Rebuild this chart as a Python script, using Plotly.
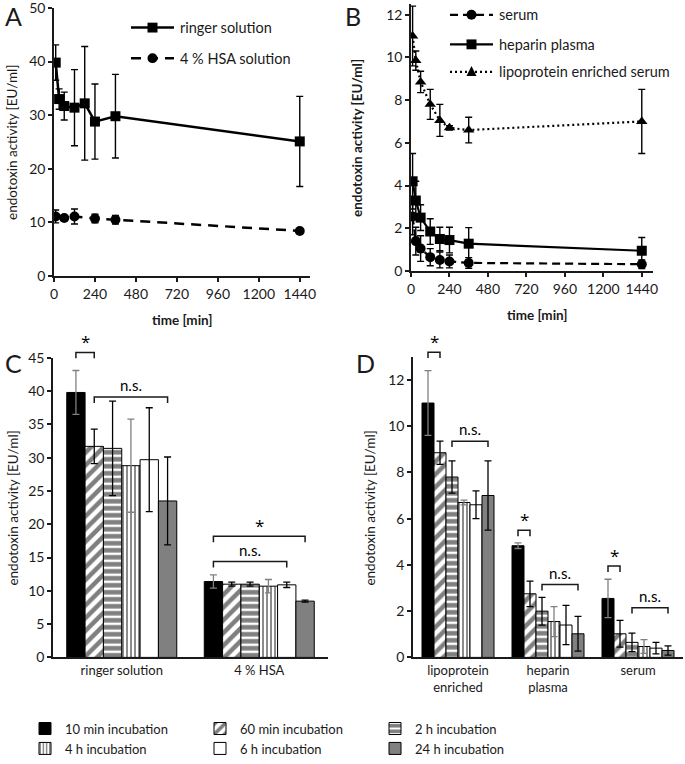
import plotly.graph_objects as go

W, H = 685, 764
FONT = "Lato, Carlito, sans-serif"
INK = "#1a1a1a"

# ---- panel A: time course in ringer / HSA
T_RINGER = [10, 30, 60, 120, 180, 240, 360, 1440]
RINGER = [39.8, 33.0, 31.7, 31.4, 32.2, 28.8, 29.8, 25.1]
RINGER_SD = [3.3, 1.9, 2.6, 7.1, 10.6, 7.0, 7.8, 8.4]
T_HSA = [10, 60, 120, 240, 360, 1440]
HSA = [11.1, 10.8, 11.1, 10.7, 10.5, 8.4]
HSA_SD = [1.2, 0.4, 1.4, 0.8, 0.8, 0.1]

# ---- panel B: time course in blood matrices
T_B = [10, 30, 60, 120, 180, 240, 360, 1440]
SERUM = [2.55, 1.4, 1.05, 0.65, 0.52, 0.45, 0.38, 0.32]
SERUM_SD = [0.85, 0.65, 0.6, 0.4, 0.37, 0.3, 0.25, 0.2]
HEPARIN = [4.2, 3.3, 2.5, 1.85, 1.5, 1.45, 1.28, 0.95]
HEPARIN_SD = [1.3, 0.9, 0.6, 0.6, 0.55, 0.6, 0.75, 0.62]
LIPO = [11.0, 9.85, 8.85, 7.8, 7.05, 6.7, 6.6, 7.0]
LIPO_SD = [1.4, 0.45, 0.5, 0.7, 0.75, 0.1, 0.6, 1.5]

# ---- panels C / D: bars per incubation time
INCUBATION = ["10 min incubation", "60 min incubation", "2 h incubation",
              "4 h incubation", "6 h incubation", "24 h incubation"]
CAT_C = ["ringer solution", "4 % HSA"]
C_RINGER = [39.8, 31.7, 31.4, 28.8, 29.7, 23.5]
C_RINGER_SD = [3.3, 2.6, 7.1, 7.0, 7.8, 6.6]
C_HSA = [11.4, 11.0, 11.0, 10.7, 10.9, 8.45]
C_HSA_SD = [1.0, 0.3, 0.3, 1.0, 0.4, 0.15]

CAT_D = ["lipoprotein<br>enriched", "heparin<br>plasma", "serum"]
D_LIPO = [11.0, 8.85, 7.8, 6.7, 6.6, 7.0]
D_LIPO_SD = [1.4, 0.5, 0.7, 0.1, 0.6, 1.5]
D_HEPARIN = [4.83, 2.75, 2.0, 1.55, 1.4, 1.02]
D_HEPARIN_SD = [0.12, 0.55, 0.6, 0.65, 0.85, 0.75]
D_SERUM = [2.55, 1.02, 0.65, 0.47, 0.4, 0.3]
D_SERUM_SD = [0.83, 0.58, 0.4, 0.3, 0.25, 0.2]

# (group, first bar, last bar, bracket top, label)
BRACKETS_C = [(0, 0, 1, 45.8, "*"), (0, 1, 5, 39.1, "n.s."),
              (1, 0, 5, 18.2, "*"), (1, 0, 4, 14.4, "n.s.")]
BRACKETS_D = [(0, 0, 1, 13.2, "*"), (0, 2, 5, 9.35, "n.s."),
              (1, 0, 1, 5.5, "*"), (1, 2, 5, 3.15, "n.s."),
              (2, 0, 1, 3.95, "*"), (2, 2, 5, 2.15, "n.s.")]

# pixel boxes of the four plot areas: (left, right, bottom, top)
BOX_A = (54, 310, 280, 8)
BOX_B = (411, 653, 275, 4)
BOX_C = (53, 328, 667, 363)
BOX_D = (413, 683, 667, 362)
YMAX = {"C": 45, "D": 13}
BARGAP = 0.2


def fx(px):
    return px / W


def fy(py):
    return 1 - py / H


def dom_x(box):
    return [fx(box[0]), fx(box[1])]


def dom_y(box):
    return [fy(box[2]), fy(box[3])]


def bar_x_paper(box, ncat, cat, i):
    pos = cat - (1 - BARGAP) / 2 + (i + 0.5) * (1 - BARGAP) / 6
    return fx(box[0] + (pos + 0.5) / ncat * (box[1] - box[0]))


def val_y_paper(box, ymax, v):
    return fy(box[2] - v / ymax * (box[2] - box[3]))


def note(px, py, text, size, **kw):
    return dict(x=fx(px), y=fy(py), xref="paper", yref="paper", text=text,
                showarrow=False, xanchor="center", yanchor="middle",
                font=dict(size=size, color=INK), **kw)


fig = go.Figure()
shapes, annotations = [], []

err = dict(type="data", thickness=1.4, width=3.5, color="black")

# line series: (name, x, y, sd, axis suffix, dash, symbol, legend position x0, y)
SERIES = [
    ("ringer solution", T_RINGER, RINGER, RINGER_SD, "", "solid", "square", 131, 28),
    ("4 % HSA solution", T_HSA, HSA, HSA_SD, "", "10px,7px", "circle", 131, 59),
    ("serum", T_B, SERUM, SERUM_SD, "2", "8px,5px", "circle", 450, 15),
    ("heparin plasma", T_B, HEPARIN, HEPARIN_SD, "2", "solid", "square", 450, 45),
    ("lipoprotein enriched serum", T_B, LIPO, LIPO_SD, "2", "2px,3px", "triangle", 450, 73),
]

for name, xs, ys, sd, ax, dash, sym, lx, ly in SERIES:
    lw = 2.5 if ax == "" else 2.2
    fig.add_trace(go.Scatter(
        x=xs, y=ys, error_y=dict(array=sd, **err), mode="lines+markers", name=name,
        line=dict(color="black", width=lw, dash=dash),
        marker=dict(symbol="triangle-up" if sym == "triangle" else sym, size=10, color="black"),
        xaxis="x" + ax, yaxis="y" + ax, showlegend=False))
    # in-panel legend entry: line sample, marker, text
    shapes.append(dict(type="line", xref="paper", yref="paper", x0=fx(lx), x1=fx(lx + 43),
                       y0=fy(ly), y1=fy(ly), line=dict(color="black", width=lw, dash=dash)))
    cx, r = lx + 21.5, 5
    if sym == "square":
        shapes.append(dict(type="rect", xref="paper", yref="paper", x0=fx(cx - r), x1=fx(cx + r),
                           y0=fy(ly + r), y1=fy(ly - r), fillcolor="black", line=dict(width=0)))
    elif sym == "circle":
        shapes.append(dict(type="circle", xref="paper", yref="paper", x0=fx(cx - r), x1=fx(cx + r),
                           y0=fy(ly + r), y1=fy(ly - r), fillcolor="black", line=dict(width=0)))
    else:
        shapes.append(dict(type="path", xref="paper", yref="paper", fillcolor="black", line=dict(width=0),
                           path=f"M{fx(cx - r)},{fy(ly + 4)} L{fx(cx + r)},{fy(ly + 4)} L{fx(cx)},{fy(ly - 6)} Z"))
    annotations.append(dict(x=fx(lx + 47), y=fy(ly), xref="paper", yref="paper", text=name,
                            showarrow=False, xanchor="left", yanchor="middle",
                            font=dict(size=14.5, color=INK)))

# bar styles per incubation time
STYLES = [
    dict(color="black", pattern=None, err="#808080"),
    dict(color="white", pattern=dict(shape="/", fgcolor="black", bgcolor="white", size=9, solidity=0.5), err="black"),
    dict(color="white", pattern=dict(shape="-", fgcolor="black", bgcolor="white", size=7, solidity=0.65), err="black"),
    dict(color="white", pattern=dict(shape="|", fgcolor="black", bgcolor="white", size=4, solidity=0.45), err="#808080"),
    dict(color="white", pattern=None, err="black"),
    dict(color="#808080", pattern=None, err="black"),
]

c_vals = [C_RINGER, C_HSA]
c_sd = [C_RINGER_SD, C_HSA_SD]
d_vals = [D_LIPO, D_HEPARIN, D_SERUM]
d_sd = [D_LIPO_SD, D_HEPARIN_SD, D_SERUM_SD]

for i, name in enumerate(INCUBATION):
    st = STYLES[i]
    marker = dict(color=st["color"], line=dict(color="black", width=1))
    if st["pattern"]:
        marker["pattern"] = st["pattern"]
    ebar = dict(type="data", thickness=1.3, width=3.5, color=st["err"])
    fig.add_trace(go.Bar(
        x=list(range(len(CAT_C))), y=[v[i] for v in c_vals],
        error_y=dict(array=[s[i] for s in c_sd], **ebar),
        name=name, marker=marker, xaxis="x3", yaxis="y3"))
    fig.add_trace(go.Bar(
        x=list(range(len(CAT_D))), y=[v[i] for v in d_vals],
        error_y=dict(array=[s[i] for s in d_sd], **ebar),
        name=name, marker=marker, xaxis="x4", yaxis="y4", showlegend=False))

# significance brackets
for panel, box, ncat, specs in (("C", BOX_C, 2, BRACKETS_C), ("D", BOX_D, 3, BRACKETS_D)):
    ymax = YMAX[panel]
    for cat, i0, i1, top, label in specs:
        x0 = bar_x_paper(box, ncat, cat, i0)
        x1 = bar_x_paper(box, ncat, cat, i1)
        yt = val_y_paper(box, ymax, top)
        yb = yt - 6 / H
        shapes.append(dict(type="path", xref="paper", yref="paper",
                           path=f"M{x0},{yb} L{x0},{yt} L{x1},{yt} L{x1},{yb}",
                           line=dict(color=INK, width=1.5)))
        star = label == "*"
        annotations.append(dict(x=(x0 + x1) / 2, y=yt + (-3 / H if star else 1 / H),
                                xref="paper", yref="paper", text=label, showarrow=False,
                                xanchor="center", yanchor="bottom",
                                font=dict(size=17 if star else 15, color="black",
                                          family="Open Sans" if star else FONT)))

# panel letters
for letter, (px, py) in {"A": (13, 16), "B": (353, 16), "C": (13, 368), "D": (366, 368)}.items():
    annotations.append(note(px, py, letter, 25))

# axis titles
ytitle = "endotoxin activity [EU/ml]"
for px, py, bold in ((12, 145, False), (357, 140, True), (13, 516, False), (370, 516, False)):
    annotations.append(note(px, py, f"<b>{ytitle}</b>" if bold else ytitle, 13.5, textangle=-90))
for px, py in ((182, 325), (537, 320)):
    annotations.append(note(px, py, "<b>time [min]</b>", 13.5))

axis_common = dict(showline=True, linecolor=INK, linewidth=1.5, showgrid=False, zeroline=False,
                   ticks="outside", ticklen=4, tickwidth=1.5, tickcolor=INK,
                   tickfont=dict(size=14, color=INK), automargin=False, ticklabeloverflow="allow")
no_ticks = {**axis_common, "ticks": "", "tickfont": dict(size=13, color=INK)}

fig.update_layout(
    width=W, height=H,
    margin=dict(l=0, r=0, t=0, b=0),
    paper_bgcolor="white", plot_bgcolor="white",
    font=dict(family=FONT, color=INK),
    barmode="group", bargap=BARGAP, bargroupgap=0,
    xaxis=dict(domain=dom_x(BOX_A), range=[0, 1500], tickvals=[0, 240, 480, 720, 960, 1200, 1440],
               anchor="y", **axis_common),
    yaxis=dict(domain=dom_y(BOX_A), range=[0, 50.01], tickvals=[0, 10, 20, 30, 40, 50],
               anchor="x", **axis_common),
    xaxis2=dict(domain=dom_x(BOX_B), range=[0, 1510], tickvals=[0, 240, 480, 720, 960, 1200, 1440],
                anchor="y2", **axis_common),
    yaxis2=dict(domain=dom_y(BOX_B), range=[0, 12.5], dtick=2, anchor="x2", **axis_common),
    xaxis3=dict(domain=dom_x(BOX_C), range=[-0.5, 1.5], tickvals=[0, 1], ticktext=CAT_C,
                anchor="y3", **no_ticks),
    yaxis3=dict(domain=dom_y(BOX_C), range=[0, 45.01], tickvals=list(range(0, 46, 5)),
                anchor="x3", **axis_common),
    xaxis4=dict(domain=dom_x(BOX_D), range=[-0.5, 2.5], tickvals=[0, 1, 2], ticktext=CAT_D,
                anchor="y4", **no_ticks),
    yaxis4=dict(domain=dom_y(BOX_D), range=[0, 13], tickvals=[0, 2, 4, 6, 8, 10, 12],
                anchor="x4", **axis_common),
    showlegend=True,
    legend=dict(orientation="h", x=fx(25), y=fy(724), xanchor="left", yanchor="top",
                entrywidth=130, itemwidth=30, font=dict(size=13, color=INK),
                bgcolor="rgba(0,0,0,0)", tracegroupgap=0),
    shapes=shapes,
    annotations=annotations,
)

# the page's default 8px body margin would shift the figure off its 685x764 window
fig.write_html("out.html", config={"displayModeBar": False},
               post_script="document.body.style.margin = '0';")
